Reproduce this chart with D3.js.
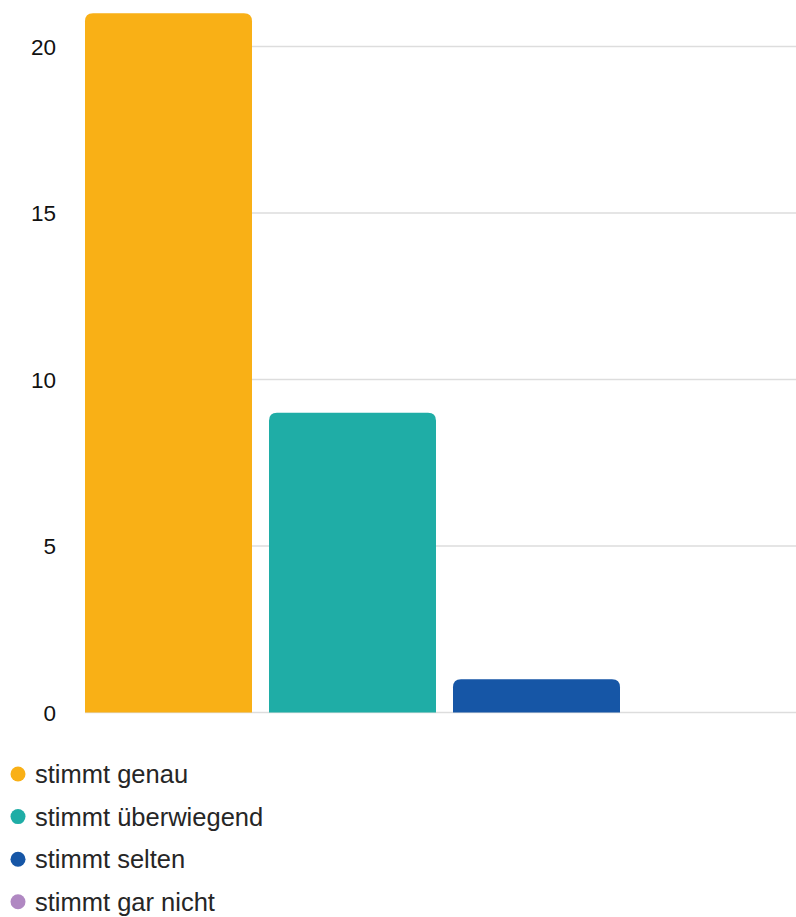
<!DOCTYPE html>
<html><head><meta charset="utf-8">
<script src="https://cdn.jsdelivr.net/npm/d3@7"></script>
<style>body{margin:0;background:#fff}svg{display:block}</style>
</head><body>
<svg id="c" width="796" height="917"></svg>
<script>
const categories = ["stimmt genau", "stimmt überwiegend", "stimmt selten", "stimmt gar nicht"];
const values = [21, 9, 1, 0];
const colors = ["#F9B016", "#1FADA6", "#1656A6", "#B088C2"];
const yTicks = [0, 5, 10, 15, 20];

const svg = d3.select("#c");
const font = "'Liberation Sans', Arial, sans-serif";
const y = d3.scaleLinear().domain([0, 20]).range([712.5, 46.5]);
const x = d3.scaleBand().domain(categories).range([85, 85 + 4 * 184 - 17]).paddingInner(17 / 184).paddingOuter(0);

// gridlines
svg.append("g").selectAll("line").data(yTicks).join("line")
  .attr("x1", 85).attr("x2", 796)
  .attr("y1", d => y(d)).attr("y2", d => y(d))
  .attr("stroke", "#dddddd").attr("stroke-width", 1.5);

// tick labels
svg.append("g").selectAll("text").data(yTicks).join("text")
  .attr("x", 56).attr("y", d => y(d)).attr("dy", "0.36em")
  .attr("text-anchor", "end").attr("font-family", font).attr("font-size", 22.5)
  .attr("fill", "#111").text(d => d);

// bars with rounded top corners
const r = 8;
function barPath(x0, w, yt, yb) {
  const h = yb - yt;
  if (h <= 0) return "";
  const rr = Math.min(r, h, w / 2);
  return `M${x0},${yb}V${yt + rr}Q${x0},${yt} ${x0 + rr},${yt}H${x0 + w - rr}Q${x0 + w},${yt} ${x0 + w},${yt + rr}V${yb}Z`;
}
svg.append("g").selectAll("path").data(categories).join("path")
  .attr("d", (c, i) => barPath(x(c), x.bandwidth(), y(values[i]), y(0)))
  .attr("fill", (c, i) => colors[i]);

// legend
const lg = svg.append("g").selectAll("g").data(categories).join("g")
  .attr("transform", (c, i) => `translate(0,${774 + i * 42.6})`);
lg.append("circle").attr("cx", 18).attr("cy", 0).attr("r", 7.5).attr("fill", (c, i) => colors[i]);
lg.append("text").attr("x", 35).attr("y", 0).attr("dy", "0.35em")
  .attr("font-family", font).attr("font-size", 25.5).attr("fill", "#262626").text(c => c);
</script>
</body></html>
